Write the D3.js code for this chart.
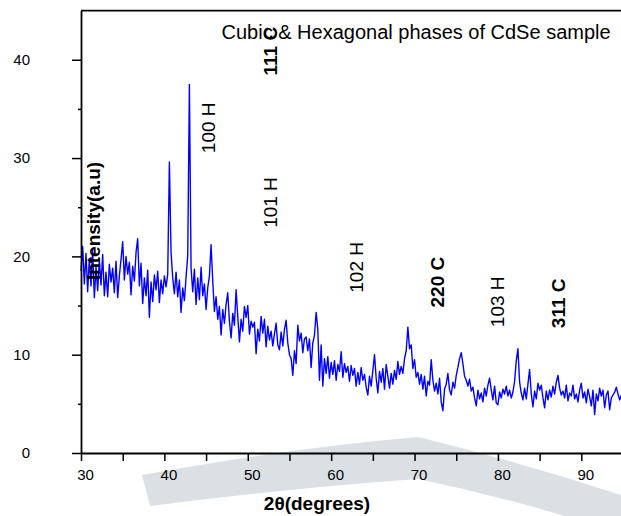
<!DOCTYPE html>
<html>
<head>
<meta charset="utf-8">
<script src="https://cdn.jsdelivr.net/npm/d3@7"></script>
<style>
  body { margin: 0; background: #fff; }
  svg { display: block; font-family: "Liberation Sans", Arial, sans-serif; }
</style>
</head>
<body>
<main></main>
<script>
// scan settings (2theta, degrees)
const angleStart = 30;
const angleStep = 0.2;

// intensity, one row per degree (30 ... 94)
const intensity = [
    18.5, 21.0, 17.2, 20.3, 16.4,
    19.8, 17.0, 20.6, 15.8, 18.9,
    16.5, 19.6, 17.1, 20.2, 16.0,
    18.4, 15.9, 19.2, 17.4, 18.8,
    16.3, 19.5, 15.8, 18.0, 19.7,
    21.5, 17.6, 20.0, 18.2, 19.4,
    16.1, 19.0, 17.5, 20.4, 21.8,
    17.0, 19.3, 15.2, 17.8, 16.0,
    18.6, 13.8, 17.4, 15.4, 18.1,
    16.6, 18.5, 15.3, 17.6, 16.2,
    18.0, 16.9, 18.2, 29.6, 20.4,
    17.8, 16.2, 18.4, 15.9, 17.6,
    14.3, 16.8, 15.5, 17.9, 20.1,
    37.5, 18.8, 16.4, 18.7, 15.1,
    17.8, 15.6, 18.9, 16.0, 17.2,
    14.6, 16.8, 18.0, 21.2, 17.5,
    14.4, 15.9, 13.6, 14.9, 12.0,
    14.6, 13.2, 15.1, 16.3, 13.4,
    11.7, 14.2, 13.0, 16.6, 13.9,
    11.3, 13.6, 12.4, 14.9, 13.8,
    15.0, 12.1, 13.4, 12.8, 13.3,
    10.1, 12.6, 11.4, 13.9, 12.2,
    13.6, 10.8, 12.9, 11.5, 12.4,
    10.9, 12.1, 13.2, 11.0, 10.5,
    12.3, 10.9, 12.6, 13.5, 11.2,
    10.0, 9.6, 7.9, 10.4, 9.1,
    13.0, 11.4, 12.2, 10.2, 11.6,
    11.8, 10.4, 11.6, 8.7, 11.2,
    12.0, 14.3, 12.6, 7.4, 11.0,
    6.8, 9.6, 8.1, 9.8, 7.6,
    9.2, 8.0, 9.4, 7.4, 9.0,
    8.3, 10.3, 7.7, 9.1, 8.2,
    8.8, 7.3, 8.9, 7.9, 8.6,
    6.8, 8.2, 7.0, 8.7, 7.4,
    8.0, 6.7, 5.9, 7.8, 6.8,
    8.4, 10.0, 7.6, 6.1, 8.3,
    7.2, 8.6, 6.5, 9.0, 7.8,
    6.6, 8.1, 7.0, 8.4, 7.5,
    9.3, 8.0, 8.8, 8.1, 9.6,
    10.4, 12.8, 10.6, 11.0, 8.6,
    9.5, 7.7, 8.2, 7.0, 8.0,
    6.5, 7.8, 5.8, 7.3, 6.9,
    9.5, 7.4, 6.3, 7.1, 6.0,
    7.6, 5.2, 4.3, 6.5, 7.0,
    8.1, 6.4, 5.9, 7.2, 6.6,
    7.9, 8.7, 9.6, 10.2, 9.1,
    7.8, 7.4, 6.8, 7.5, 6.3,
    6.7, 5.6, 4.8, 6.4, 5.5,
    6.1, 5.2, 6.6, 5.8, 6.9,
    7.6, 6.4, 5.4, 6.8, 5.1,
    4.9, 6.2, 5.6, 6.5, 6.0,
    6.8, 5.8, 6.4, 5.6, 6.2,
    7.3, 9.4, 10.6, 7.2, 6.1,
    5.4, 6.6, 5.5, 7.0, 8.5,
    6.0, 4.7, 6.3, 5.5, 7.1,
    6.4, 6.9, 5.6, 4.6, 6.3,
    5.4, 6.4, 5.7, 6.8, 6.0,
    7.2, 7.9, 6.6, 5.9, 6.3,
    5.6, 6.9, 5.3, 6.1, 5.8,
    6.9, 5.5, 6.0, 5.2, 6.4,
    7.1, 5.6, 6.2, 5.1, 6.5,
    5.7, 4.8, 6.4, 3.9, 6.0,
    5.3, 6.6, 5.8, 6.4, 4.6,
    5.9, 6.3, 4.4, 5.6, 5.9,
    6.2, 6.7, 6.0, 5.4, 5.9
];

// axes
const xDomain = [30, 95];
const yDomain = [0, 45];
const xTicks = [30, 35, 40, 45, 50, 55, 60, 65, 70, 75, 80, 85, 90, 95];
const yMajorTicks = [0, 10, 20, 30, 40];
const yMinorTicks = [5, 15, 25, 35];

// peak labels (text, 2theta of the label, intensity where the label starts)
const peakLabels = ["111 C", "100 H", "101 H", "102 H", "220 C", "103 H", "311 C"];
const peakLabelAngles = [53.5, 46.1, 53.5, 63.8, 73.5, 80.7, 88.0];
const peakLabelLevels = [38.4, 30.5, 22.9, 16.3, 14.8, 12.8, 12.7];

const titleText = "Cubic & Hexagonal phases of CdSe sample";
const xLabel = "2θ(degrees)";
const yLabel = "Intensity(a.u)";

const svgSize = { width: 621, height: 516 };
const plot = { left: 81, right: 623, top: 10.6, bottom: 453 };

const createCanvas = () => {
    return d3.select("main")
            .append("svg")
            .attr("width", svgSize.width)
            .attr("height", svgSize.height);
};

const defineScales = () => {
    const xScale = d3.scaleLinear()
                    .domain(xDomain)
                    .range([plot.left, plot.right]);
    const yScale = d3.scaleLinear()
                    .domain(yDomain)
                    .range([plot.bottom, plot.top]);
    return {xScale, yScale};
};

// grey watermark behind the plot
const createWatermark = (svg) => {
    svg.append("path")
        .attr("d", "M142,475 Q290,448 418,437 Q520,462 621,495 L621,534 Q520,500 418,479 Q290,488 150,506 Z")
        .attr("fill", "#dae0e4");
};

const createLine = (svg, scales) => {
    const line = d3.line()
                .x((d, i) => scales.xScale(angleStart + i * angleStep))
                .y((d) => scales.yScale(d));
    svg.append("path")
        .datum(intensity)
        .attr("d", line)
        .attr("fill", "none")
        .attr("stroke", "#0000ff")
        .attr("stroke-width", 1.4)
        .attr("stroke-linejoin", "round");
};

const createAxes = (svg, scales) => {
    const xAxis = svg.append("g")
        .attr("transform", `translate(0, ${plot.bottom})`)
        .call(d3.axisBottom(scales.xScale)
                .tickValues(xTicks)
                .tickSize(8)
                .tickSizeOuter(0)
                .tickFormat((d) => d % 10 === 0 && d < 95 ? d : ""));
    xAxis.attr("font-size", 15).attr("font-family", null);
    xAxis.selectAll(".tick text").attr("y", 27).attr("dy", null).attr("dx", 4).attr("fill", "#000");

    const yAxis = svg.append("g")
        .attr("transform", `translate(${plot.left}, 0)`)
        .call(d3.axisLeft(scales.yScale)
                .tickValues(yMajorTicks)
                .tickSize(9)
                .tickPadding(42)
                .tickSizeOuter(0));
    yAxis.attr("font-size", 15).attr("font-family", null);
    yAxis.selectAll(".tick text").attr("fill", "#000");

    svg.append("g")
        .attr("transform", `translate(${plot.left}, 0)`)
        .call(d3.axisLeft(scales.yScale)
                .tickValues(yMinorTicks)
                .tickSize(3)
                .tickFormat(""))
        .select(".domain").remove();

    svg.selectAll(".domain").attr("stroke", "#000").attr("stroke-width", 1.8);
    svg.selectAll(".tick line").attr("stroke", "#000").attr("stroke-width", 1.5);

    // top frame line
    svg.append("line")
        .attr("x1", plot.left)
        .attr("x2", plot.right)
        .attr("y1", scales.yScale(yDomain[1]))
        .attr("y2", scales.yScale(yDomain[1]))
        .attr("stroke", "#000")
        .attr("stroke-width", 1.8);
};

const createPeakLabels = (svg, scales) => {
    svg.selectAll(".peak-label")
        .data(peakLabels)
        .enter()
        .append("text")
        .attr("class", "peak-label")
        .attr("transform", (d, i) => `translate(${scales.xScale(peakLabelAngles[i])}, ${scales.yScale(peakLabelLevels[i])}) rotate(-90)`)
        .attr("font-size", 19)
        .attr("font-weight", (d) => d.endsWith("C") ? "bold" : "normal")
        .text((d) => d);
};

const createTexts = (svg) => {
    svg.append("text")
        .attr("x", 221.5)
        .attr("y", 39)
        .attr("font-size", 20)
        .text(titleText);

    svg.append("text")
        .attr("transform", "translate(100, 221) rotate(-90)")
        .attr("text-anchor", "middle")
        .attr("font-size", 19)
        .attr("font-weight", "bold")
        .text(yLabel);

    svg.append("text")
        .attr("x", 317)
        .attr("y", 510)
        .attr("text-anchor", "middle")
        .attr("font-size", 19)
        .attr("font-weight", "bold")
        .text(xLabel);
};

const driver = () => {
    const svg = createCanvas();
    const scales = defineScales();
    createWatermark(svg);
    createLine(svg, scales);
    createAxes(svg, scales);
    createPeakLabels(svg, scales);
    createTexts(svg);
};

driver();
</script>
</body>
</html>
